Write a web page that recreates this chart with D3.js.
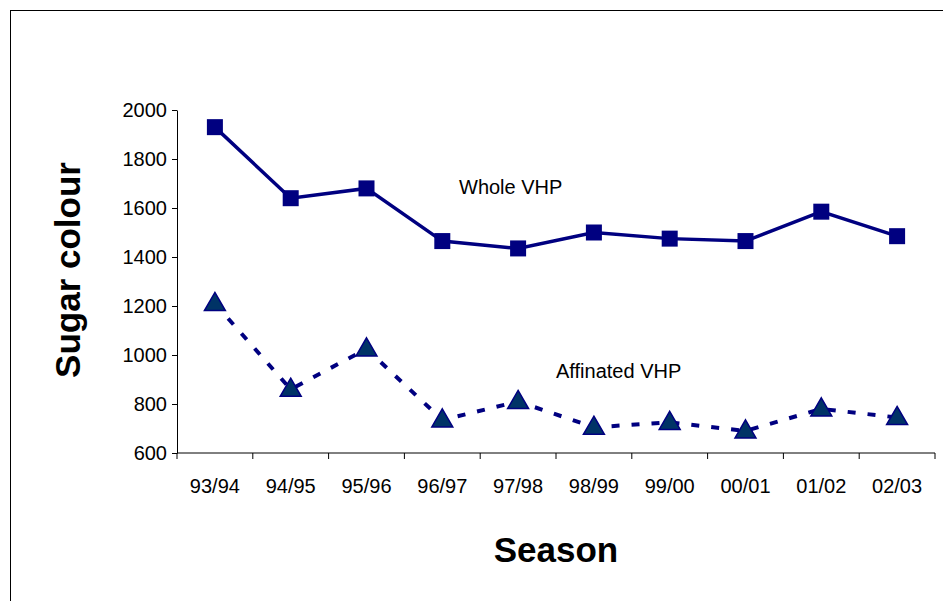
<!DOCTYPE html>
<html><head><meta charset="utf-8">
<script src="https://cdn.jsdelivr.net/npm/d3@7"></script>
<style>body{margin:0;background:#fff}svg text{font-family:"Liberation Sans",Arial,sans-serif}</style>
</head><body><svg id="c" width="943" height="601"></svg>
<script>
var seasons = ["93/94","94/95","95/96","96/97","97/98","98/99","99/00","00/01","01/02","02/03"];
var wholeVHP = [1930,1640,1680,1465,1435,1500,1475,1465,1585,1485];
var affinatedVHP = [1210,860,1025,735,810,705,725,690,780,745];
var yTicks = [600,800,1000,1200,1400,1600,1800,2000];

var svg = d3.select("#c");
svg.append("rect").attr("x",10.5).attr("y",10.5).attr("width",940).attr("height",600)
  .attr("fill","none").attr("stroke","#000");

var x = d3.scaleBand().domain(seasons).range([177,935]);
var y = d3.scaleLinear().domain([600,2000]).range([453,110]);

// y axis
var ya = svg.append("g").attr("transform","translate(177,0)")
  .call(d3.axisLeft(y).tickValues(yTicks).tickFormat(d3.format("d")).tickSize(5).tickSizeOuter(0));
ya.select(".domain").attr("stroke","#000");
ya.selectAll("text").style("font-size","20px").style("font-family","'Liberation Sans',Arial,sans-serif")
  .attr("fill","#000").attr("dx","-2");

// x axis with ticks between categories
var xa = svg.append("g").attr("transform","translate(0,453)");
xa.append("line").attr("x1",177).attr("x2",935).attr("stroke","#000");
xa.selectAll("line.t").data(d3.range(seasons.length+1)).join("line")
  .attr("x1",i=>177+i*x.bandwidth()).attr("x2",i=>177+i*x.bandwidth())
  .attr("y1",0).attr("y2",6).attr("stroke","#000");
xa.selectAll("text").data(seasons).join("text")
  .attr("x",d=>x(d)+x.bandwidth()/2).attr("y",40).attr("text-anchor","middle")
  .style("font-size","20px").text(d=>d);

var cx = (d,i)=>x(seasons[i])+x.bandwidth()/2;
var line = d3.line().x(cx).y(d=>y(d));

svg.append("path").datum(wholeVHP).attr("d",line).attr("fill","none")
  .attr("stroke","#000080").attr("stroke-width",3.5);
svg.selectAll("rect.w").data(wholeVHP).join("rect")
  .attr("x",(d,i)=>cx(d,i)-8).attr("y",d=>y(d)-8).attr("width",16).attr("height",16)
  .attr("fill","#000080");

svg.append("path").datum(affinatedVHP).attr("d",line).attr("fill","none")
  .attr("stroke","#000080").attr("stroke-width",4).attr("stroke-dasharray","8,12");
var tri = d3.symbol().type(d3.symbolTriangle).size(190);
svg.selectAll("path.a").data(affinatedVHP).join("path")
  .attr("d",tri).attr("transform",(d,i)=>"translate("+cx(d,i)+","+(y(d)+1)+")")
  .attr("fill","#003366").attr("stroke","#000080").attr("stroke-width",1.5);

svg.append("text").attr("x",459).attr("y",194).style("font-size","20px").text("Whole VHP");
svg.append("text").attr("x",556).attr("y",378).style("font-size","20px").text("Affinated VHP");

svg.append("text").attr("x",556).attr("y",562).attr("text-anchor","middle")
  .style("font-size","35px").attr("font-weight","bold").text("Season");
svg.append("text").attr("transform","translate(80,270) rotate(-90)").attr("text-anchor","middle")
  .style("font-size","35px").attr("font-weight","bold").text("Sugar colour");
</script></body></html>
